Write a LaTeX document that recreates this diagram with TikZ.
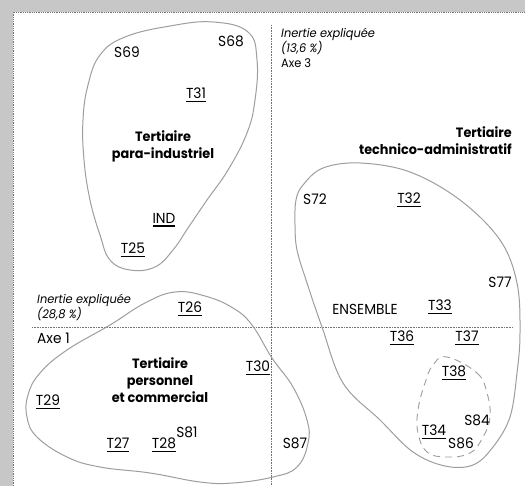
\documentclass[tikz,border=0pt]{standalone}
\usepackage{fontspec}
\setmainfont{Poppins}[FakeStretch=0.95]
\newcommand\myul[1]{\setbox0\hbox{#1}\rlap{\rule[-3pt]{\wd0}{1.1pt}}\box0}
\begin{document}
\begin{tikzpicture}[x=1pt,y=-1pt,
  lbl/.style={inner sep=0pt, font=\fontsize{14.5}{16}\selectfont},
  grp/.style={inner sep=0pt, font=\fontsize{13.5}{17}\selectfont\bfseries},
  inert/.style={inner sep=0pt, font=\fontsize{12}{15}\selectfont, align=left},
  blob/.style={draw=black!38, line width=1pt},
  dblob/.style={draw=black!38, line width=0.9pt, dash pattern=on 7pt off 5pt},
  axisline/.style={draw=black!55, densely dotted, line width=0.6pt}]
\useasboundingbox (0,0) rectangle (525,486);
\fill[black!22] (0,0) rectangle (525,486);
\fill[white] (13,12) rectangle (525,486);
\coordinate (fbl) at (13,486);
\coordinate (ftl) at (13,12);
\coordinate (ftr) at (525,12);
\draw[black!55, densely dotted, line width=0.8pt] (fbl) -- (ftl) -- (ftr);
% axes
\coordinate (vtop) at (271,25);
\coordinate (vbot) at (271,486);
\coordinate (hl) at (32,327);
\coordinate (hr) at (513,327);
\draw[axisline] (vtop) -- (vbot);
\draw[axisline] (hl) -- (hr);
% blobs
\draw[blob] plot[smooth cycle, tension=0.7] coordinates {
 (213,22) (248,32) (257,60) (255,100) (247,133) (228,170) (207,200) (188,228)
 (173,250) (155,267) (130,270) (110,260) (100,235) (90,200) (84,160) (83,120)
 (88,85) (100,55) (125,37) (170,26)};
\draw[blob] plot[smooth cycle, tension=0.7] coordinates {
 (175,292) (205,296) (233,308) (252,325) (272,358) (293,387) (307,420) (308,443)
 (297,467) (273,477) (233,483) (200,482) (150,473) (100,467) (67,457) (37,437)
 (27,417) (28,395) (40,373) (67,350) (110,325) (145,303)};
\draw[blob] plot[smooth cycle, tension=0.6] coordinates {
 (303,185) (323,168) (360,163) (410,172) (460,200) (500,240) (517,283) (520,333)
 (517,373) (510,417) (493,447) (473,465) (445,466) (413,452) (380,420) (343,383)
 (322,327) (307,283) (297,250) (295,225) (296,200)};
\draw[dblob] plot[smooth cycle, tension=0.7] coordinates {
 (447,357) (477,373) (487,393) (490,417) (483,437) (470,453) (447,457) (427,452)
 (418,433) (418,410) (425,383) (433,365)};
% labels
\node[lbl] (s69) at (127,52) {S69};
\node[lbl] (s68) at (231,41) {S68};
\node[lbl] (t31) at (196,95) {\myul{T31}};
\node[grp, align=center] (para) at (163,146) {Tertiaire\\para-industriel};
\node[lbl] (ind) at (164,220) {\myul{IND}};
\node[lbl] (t25) at (133,250) {\myul{T25}};
\node[inert, anchor=west] (in3) at (281,48) {\itshape Inertie expliquée\\\itshape (13,6 \%)\\Axe 3};
\node[grp, align=right, anchor=east] (tech) at (512,141) {Tertiaire\\technico-administratif};
\node[lbl] (s72) at (315,199) {S72};
\node[lbl] (t32) at (409,200) {\myul{T32}};
\node[lbl] (s77) at (500,282) {S77};
\node[lbl] (ens) at (365,309) {ENSEMBLE};
\node[lbl] (t33) at (440,307) {\myul{T33}};
\node[lbl] (t36) at (402,338) {\myul{T36}};
\node[lbl] (t37) at (467,338) {\myul{T37}};
\node[lbl] (t38) at (454,373) {\myul{T38}};
\node[lbl] (s84) at (477,420) {S84};
\node[lbl] (t34) at (434,432) {\myul{T34}};
\node[lbl] (s86) at (461,443) {S86};
\node[lbl] (s87) at (295,443) {S87};
\node[inert, anchor=west] (in1) at (37,307) {\itshape Inertie expliquée\\\itshape (28,8 \%)};
\node[lbl, anchor=west] (axe1) at (37,338) {Axe 1};
\node[lbl] (t26) at (190,309) {\myul{T26}};
\node[grp, align=center] (pers) at (160,380) {Tertiaire\\personnel\\et commercial};
\node[lbl] (t30) at (258,368) {\myul{T30}};
\node[lbl] (t29) at (48,402) {\myul{T29}};
\node[lbl] (t27) at (118,445) {\myul{T27}};
\node[lbl] (t28) at (164,445) {\myul{T28}};
\node[lbl] (s81) at (187,432) {S81};
\end{tikzpicture}
\end{document}
